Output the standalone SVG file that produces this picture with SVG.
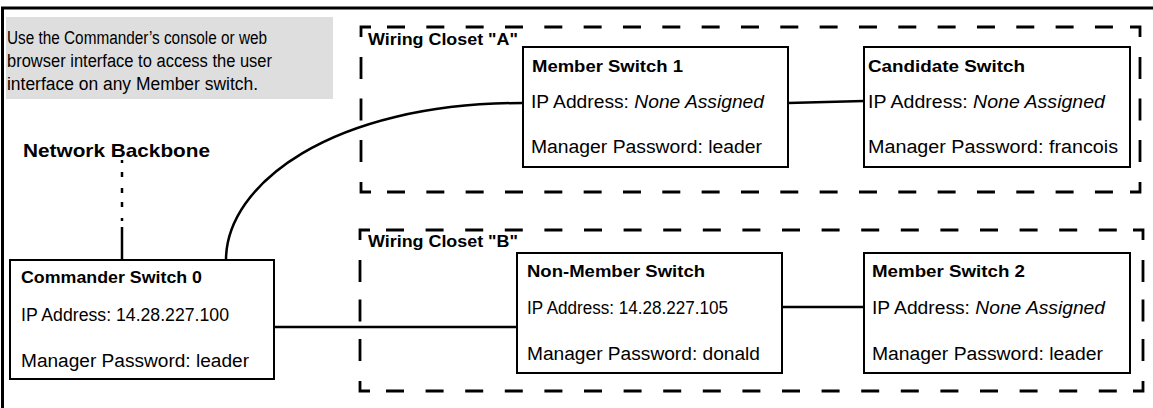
<svg xmlns="http://www.w3.org/2000/svg" width="1153" height="408" viewBox="0 0 1153 408">
<style>
text{font-family:"Liberation Sans",Arial,sans-serif;fill:#000}
.r{font-size:18px}
.b{font-size:17px;font-weight:bold}
.i{font-style:italic}
.box{fill:#fff;stroke:#000;stroke-width:2}
.dash{fill:none;stroke:#000;stroke-width:2.8}
.conn{fill:none;stroke:#000;stroke-width:2.5}
</style>
<rect width="1153" height="408" fill="#fff"/>
<path d="M2.5,408 V8 H1153" fill="none" stroke="#000" stroke-width="3"/>
<g id="note">
<rect x="6" y="17" width="327" height="82" fill="#dedede"/>
<text class="r" x="7" y="44" textLength="260" lengthAdjust="spacingAndGlyphs">Use the Commander’s console or web</text>
<text class="r" x="7" y="67" textLength="265" lengthAdjust="spacingAndGlyphs">browser interface to access the user</text>
<text class="r" x="7" y="90" textLength="251" lengthAdjust="spacingAndGlyphs">interface on any Member switch.</text>
</g>
<g id="closetA">
<path class="dash" d="M371,27 H361 V37 M1130,27 H1140 V37 M361,182 V192 H371 M1140,182 V192 H1130"/>
<path class="dash" stroke-dasharray="18 21.33" d="M387,27 H1113 M387,192 H1113"/>
<path class="dash" stroke-dasharray="22 19.5" d="M361,57 V162 M1140,57 V162"/>
<text class="b" x="368" y="45" textLength="150" lengthAdjust="spacingAndGlyphs">Wiring Closet "A"</text>
</g>
<g id="closetB">
<path class="dash" d="M370,230 H360 V240 M1133,230 H1143 V240 M360,381 V391 H370 M1143,381 V391 H1133"/>
<path class="dash" stroke-dasharray="18 21.6" d="M386,230 H1117 M386,391 H1117"/>
<path class="dash" stroke-dasharray="22 17.5" d="M360,260 V361 M1143,260 V361"/>
<text class="b" x="368" y="247" textLength="150" lengthAdjust="spacingAndGlyphs">Wiring Closet "B"</text>
</g>
<g id="connectors">
<path class="conn" stroke-width="3" d="M122,160 V163 M122,172 V177 M122,188 V193 M122,202 V207 M122,218 V221 M122,227 V260"/>
<path class="conn" d="M226,260 C226,185 330,103 523,103"/>
<path class="conn" d="M788,103 L864,101"/>
<path class="conn" d="M274,327 H517"/>
<path class="conn" d="M782,307 H864"/>
</g>
<g id="backbone">
<text class="b" style="font-size:18.5px" x="23" y="157" textLength="187" lengthAdjust="spacingAndGlyphs">Network Backbone</text>
</g>
<g id="commander">
<rect class="box" x="10" y="260" width="264" height="119"/>
<text class="b" x="21" y="283" textLength="181" lengthAdjust="spacingAndGlyphs">Commander Switch 0</text>
<text class="r" x="21" y="321" textLength="208" lengthAdjust="spacingAndGlyphs">IP Address: 14.28.227.100</text>
<text class="r" x="21" y="367" textLength="228" lengthAdjust="spacingAndGlyphs">Manager Password: leader</text>
</g>
<g id="member1">
<rect class="box" x="523" y="47" width="265" height="120"/>
<text class="b" x="532" y="72" textLength="151" lengthAdjust="spacingAndGlyphs">Member Switch 1</text>
<text class="r" x="531" y="108" textLength="233" lengthAdjust="spacingAndGlyphs">IP Address: <tspan class="i">None Assigned</tspan></text>
<text class="r" x="531" y="153" textLength="231" lengthAdjust="spacingAndGlyphs">Manager Password: leader</text>
</g>
<g id="candidate">
<rect class="box" x="864" y="47" width="266" height="120"/>
<text class="b" x="868" y="72" textLength="157" lengthAdjust="spacingAndGlyphs">Candidate Switch</text>
<text class="r" x="868" y="108" textLength="237" lengthAdjust="spacingAndGlyphs">IP Address: <tspan class="i">None Assigned</tspan></text>
<text class="r" x="868" y="153" textLength="250" lengthAdjust="spacingAndGlyphs">Manager Password: francois</text>
</g>
<g id="nonmember">
<rect class="box" x="517" y="253" width="265" height="120"/>
<text class="b" x="527" y="277" textLength="178" lengthAdjust="spacingAndGlyphs">Non-Member Switch</text>
<text class="r" x="527" y="314" textLength="201" lengthAdjust="spacingAndGlyphs">IP Address: 14.28.227.105</text>
<text class="r" x="527" y="360" textLength="233" lengthAdjust="spacingAndGlyphs">Manager Password: donald</text>
</g>
<g id="member2">
<rect class="box" x="864" y="253" width="266" height="120"/>
<text class="b" x="872" y="277" textLength="153" lengthAdjust="spacingAndGlyphs">Member Switch 2</text>
<text class="r" x="872" y="314" textLength="233" lengthAdjust="spacingAndGlyphs">IP Address: <tspan class="i">None Assigned</tspan></text>
<text class="r" x="872" y="360" textLength="231" lengthAdjust="spacingAndGlyphs">Manager Password: leader</text>
</g>
</svg>
